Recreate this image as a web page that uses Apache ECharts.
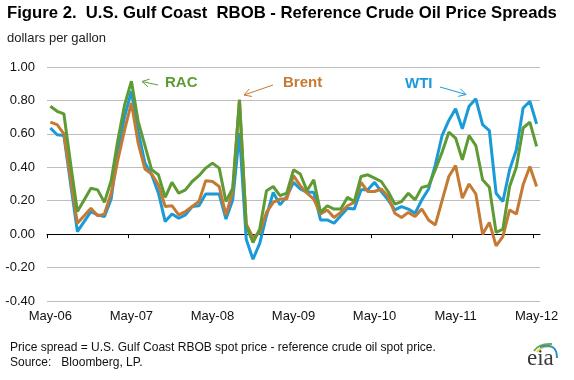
<!DOCTYPE html>
<html><head><meta charset="utf-8">
<script src="https://cdn.jsdelivr.net/npm/echarts@6/dist/echarts.min.js"></script>
<style>html,body{margin:0;padding:0;background:#fff}#c{width:574px;height:380px}</style>
</head><body><div id="c"></div>
<script>
// Monthly categories May-06 .. May-12
const monthNames = ['Jan','Feb','Mar','Apr','May','Jun','Jul','Aug','Sep','Oct','Nov','Dec'];
const categories = [];
for (let k = 0; k < 73; k++) {
  const m = (4 + k) % 12, y = 6 + Math.floor((4 + k) / 12);
  categories.push(monthNames[m] + '-' + String(y).padStart(2, '0'));
}
const tickPositions = [0, 12, 24, 36, 48, 60, 72];

const rac = [0.765,0.735,0.72,0.42,0.135,0.205,0.275,0.265,0.19,0.32,0.565,0.775,0.915,0.675,0.53,0.385,0.355,0.22,0.31,0.245,0.265,0.315,0.35,0.395,0.425,0.395,0.195,0.275,0.80,0.05,-0.05,0.03,0.26,0.285,0.23,0.245,0.385,0.36,0.26,0.325,0.13,0.17,0.15,0.15,0.22,0.195,0.345,0.355,0.335,0.315,0.255,0.18,0.195,0.245,0.205,0.28,0.29,0.385,0.49,0.61,0.575,0.445,0.59,0.53,0.325,0.28,0.01,0.03,0.285,0.40,0.635,0.67,0.525];
const brent = [0.67,0.655,0.60,0.33,0.065,0.11,0.155,0.11,0.12,0.245,0.445,0.625,0.785,0.545,0.39,0.36,0.295,0.165,0.17,0.115,0.135,0.165,0.195,0.32,0.315,0.285,0.115,0.255,0.805,0.06,-0.02,0.01,0.13,0.19,0.21,0.21,0.35,0.29,0.245,0.21,0.12,0.145,0.10,0.13,0.17,0.19,0.31,0.255,0.255,0.27,0.225,0.125,0.10,0.13,0.105,0.15,0.085,0.055,0.20,0.345,0.41,0.215,0.30,0.24,0.0,0.07,-0.07,-0.015,0.145,0.12,0.295,0.405,0.285];
const wti = [0.635,0.595,0.59,0.30,0.015,0.075,0.135,0.115,0.105,0.21,0.50,0.705,0.855,0.615,0.425,0.355,0.245,0.075,0.12,0.095,0.115,0.165,0.17,0.24,0.24,0.24,0.09,0.205,0.605,-0.03,-0.15,-0.055,0.11,0.25,0.175,0.225,0.31,0.27,0.25,0.25,0.085,0.085,0.065,0.11,0.155,0.15,0.265,0.265,0.31,0.255,0.205,0.145,0.165,0.15,0.125,0.205,0.27,0.415,0.59,0.68,0.75,0.63,0.765,0.81,0.655,0.62,0.245,0.195,0.385,0.505,0.755,0.795,0.66];

const C_WTI = '#1B9AD8', C_BRENT = '#C57A34', C_RAC = '#5E9B34';
const FONT = 'Liberation Sans, Arial, sans-serif';

function arrow(tail, tip, color) {
  const dx = tip[0]-tail[0], dy = tip[1]-tail[1], L = Math.hypot(dx, dy);
  const ux = dx/L, uy = dy/L, nx = -uy, ny = ux, h = 7, w = 4;
  const a = [tip[0]-h*ux+w*nx, tip[1]-h*uy+w*ny];
  const b = [tip[0]-h*ux-w*nx, tip[1]-h*uy-w*ny];
  return [
    {type:'line', shape:{x1:tail[0],y1:tail[1],x2:tip[0],y2:tip[1]}, style:{stroke:color, lineWidth:1}},
    {type:'polyline', shape:{points:[a, tip, b]}, style:{stroke:color, lineWidth:1, fill:null}}
  ];
}

const chart = echarts.init(document.getElementById('c'), null, {renderer:'canvas'});
chart.setOption({
  animation: false,
  backgroundColor: '#fff',
  grid: {left: 47, right: 34, top: 67, height: 234, containLabel: false},
  xAxis: [
    {type:'category', data: categories, boundaryGap: true, position:'bottom',
     axisLine:{show:false, onZero:false}, axisTick:{show:false},
     axisLabel:{interval: 11, color:'#111', fontSize:13, fontFamily:FONT, margin:9},
     splitLine:{show:false}},
    {type:'value', min:0, max:categories.length, position:'bottom',
     axisLine:{show:true, onZero:true, lineStyle:{color:'#000', width:1}},
     axisTick:{show:true, length:4, inside:false, customValues: tickPositions, lineStyle:{color:'#000'}},
     axisLabel:{show:false}, splitLine:{show:false}}
  ],
  yAxis: {type:'value', min:-0.4, max:1.0, interval:0.2,
    axisLine:{show:false}, axisTick:{show:false},
    axisLabel:{formatter: v => v.toFixed(2), color:'#111', fontSize:13, fontFamily:FONT, margin:12},
    splitLine:{show:true, lineStyle:{color:'#BDBDBD', width:1}}},
  series: [
    {name:'WTI', type:'line', data: wti, symbol:'none', lineStyle:{color:C_WTI, width:3}, itemStyle:{color:C_WTI}, z:2},
    {name:'Brent', type:'line', data: brent, symbol:'none', lineStyle:{color:C_BRENT, width:3}, itemStyle:{color:C_BRENT}, z:3},
    {name:'RAC', type:'line', data: rac, symbol:'none', lineStyle:{color:C_RAC, width:3}, itemStyle:{color:C_RAC}, z:4}
  ],
  graphic: [
    {type:'text', left:7, top:5, style:{text:'Figure 2.  U.S. Gulf Coast  RBOB - Reference Crude Oil Price Spreads', font:'bold 16.7px ' + FONT, fill:'#000'}},
    {type:'text', left:7, top:32, style:{text:'dollars per gallon', font:'13px ' + FONT, fill:'#222'}},
    {type:'text', left:165, top:75, style:{text:'RAC', font:'bold 15px ' + FONT, fill:C_RAC}},
    {type:'text', left:283, top:75, style:{text:'Brent', font:'bold 15px ' + FONT, fill:C_BRENT}},
    {type:'text', left:405, top:76, style:{text:'WTI', font:'bold 15px ' + FONT, fill:C_WTI}},
    ...arrow([158, 85], [142, 81.5], C_RAC),
    ...arrow([273, 85], [244, 95], C_BRENT),
    ...arrow([440, 87], [466, 94.5], C_WTI),
    {type:'text', left:10, top:342, style:{text:'Price spread = U.S. Gulf Coast RBOB spot price - reference crude oil spot price.', font:'12px ' + FONT, fill:'#111'}},
    {type:'text', left:10, top:357, style:{text:'Source:   Bloomberg, LP.', font:'12px ' + FONT, fill:'#111'}},
    {type:'text', left:527, top:347, style:{text:'eia', font:'23px Liberation Serif, serif', fill:'#3A3A3A'}},
    {type:'bezierCurve', shape:{x1:534,y1:351,cpx1:539,cpy1:343,x2:552,y2:344}, style:{stroke:'#6AB245', lineWidth:2, fill:null}},
    {type:'bezierCurve', shape:{x1:537,y1:352,cpx1:542,cpy1:346,x2:551,y2:347}, style:{stroke:'#F2C12E', lineWidth:1.5, fill:null}},
    {type:'bezierCurve', shape:{x1:540,y1:347,cpx1:557,cpy1:342,x2:557,y2:358}, style:{stroke:'#2A8FD0', lineWidth:2, fill:null}}
  ]
});
</script></body></html>
